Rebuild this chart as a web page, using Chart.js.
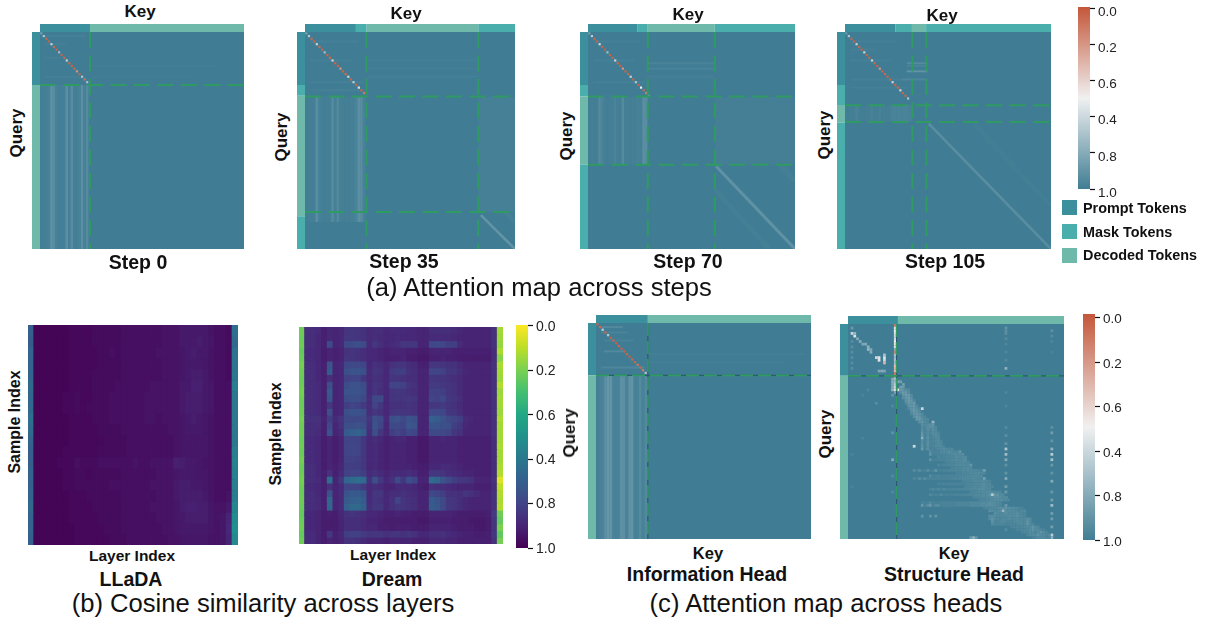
<!DOCTYPE html>
<html>
<head>
<meta charset="utf-8">
<script src="https://cdn.jsdelivr.net/npm/chart.js@4"></script>
<style>
    html, body { margin: 0; padding: 0; background: #fff; width: 1211px; height: 624px; overflow: hidden; }
    body { position: relative; font-family: "Liberation Sans", Arial, sans-serif; color: #111; }
    canvas { position: absolute; filter: blur(0.35px); }
    canvas.bar { filter: none; }
    .label { position: absolute; transform: translate(-50%, -50%); white-space: nowrap; font-weight: bold; }
    .swatch { position: absolute; width: 15px; height: 15px; }
</style>
</head>
<body>
<script>
// ---------- data. Attention panels are in token units (0-80) ----------
const colorbarTickValues = [0, 0.2, 0.4, 0.6, 0.8, 1];
const colorbarTickLabels = ["0.0", "0.2", "0.6", "0.4", "0.8", "1.0"];
const legendLabels = ["Prompt Tokens", "Mask Tokens", "Decoded Tokens"];

const stepZeroKeySpans = [["prompt", 0, 19.6], ["decoded", 19.6, 80]];
const stepZeroQuerySpans = [["prompt", 0, 19.5], ["decoded", 19.5, 80]];
const stepZeroSplitsX = [19.6];
const stepZeroSplitsY = [19.5];
const stepZeroDiagonal = [.85, .68, .05, .04, .62, .06, .04, .72, .04, .06, .62, .05, .04, .06, .2, .05, .68, .1, .7, .95];
const stepZeroStreaks = [.995, .99, .985, .98, .91, .93, .98, .99, .985, .99, .92, .985, .93, .985, .99, .98, .92, .98, .94];
const stepZeroStreakRows = [19.5, 80];
const stepZeroRowStreaks = [[1, 1, 18, .985], [4, 2, 10, .985], [9, 2, 8, .985], [16, 2, 16, .985], [12, 19.6, 70, .995], [16, 19.6, 60, .995]];
const stepZeroBands = [];
const stepZeroWashes = [];

const stepThirtyFiveKeySpans = [["prompt", 0, 19.4], ["mask", 19.4, 23.5], ["decoded", 23.5, 66], ["mask", 66, 80]];
const stepThirtyFiveQuerySpans = [["prompt", 0, 19.5], ["mask", 19.5, 23.5], ["decoded", 23.5, 67.9], ["mask", 67.9, 80]];
const stepThirtyFiveSplitsX = [23.4, 66];
const stepThirtyFiveSplitsY = [23.8, 66.4];
const stepThirtyFiveDiagonal = [.85, .68, .05, .04, .62, .06, .04, .72, .04, .06, .62, .05, .04, .2, .05, .06, .62, .05, .65, .05, .55, .05, .12];
const stepThirtyFiveStreaks = [.995, .99, .99, .985, .93, .98, .99, .995, .99, .99, .94, .985, .95, .985, .99, .99, .99, .985, .985, .97, .92, .93, .98];
const stepThirtyFiveStreakRows = [23.8, 70];
const stepThirtyFiveRowStreaks = [[3, 2, 20, .985], [10, 2, 18, .985], [18, 2, 22, .985], [21, 3, 22, .985], [10, 24, 66, .992], [13, 24, 66, .992], [16, 24, 66, .992]];
const stepThirtyFiveBands = [[67, 67.5, 80, 80, .9, 2.6], [66, 56, 80, 70, .985, 5]];
const stepThirtyFiveWashes = [[66, 24, 80, 66.4, .985]];

const stepSeventyKeySpans = [["prompt", 0, 19.2], ["mask", 19.2, 23.1], ["decoded", 23.1, 49], ["mask", 49, 80]];
const stepSeventyQuerySpans = [["prompt", 0, 19.5], ["mask", 19.5, 23.8], ["decoded", 23.8, 48.9], ["mask", 48.9, 80]];
const stepSeventySplitsX = [23.1, 49];
const stepSeventySplitsY = [23.8, 48.9];
const stepSeventyDiagonal = [.85, .66, .05, .04, .6, .05, .04, .72, .04, .05, .62, .05, .04, .2, .05, .05, .62, .05, .68, .05, .5, .05, .15, .85];
const stepSeventyStreaks = [.995, .99, .99, .99, .94, .97, .99, .995, .99, .99, .97, .99, .99, .94, .99, .99, .99, .985, .985, .98, .985, .92, .93];
const stepSeventyStreakRows = [23.8, 48.9];
const stepSeventyRowStreaks = [[3, 2, 20, .985], [10, 2, 18, .985], [18, 2, 22, .985], [11, 23, 49, .975], [13, 23, 49, .975], [16, 23, 49, .99]];
const stepSeventyBands = [[49.5, 49.5, 80, 80, .91, 3], [56, 30, 80, 55, .99, 6], [49, 58, 70, 80, .992, 5]];
const stepSeventyWashes = [[49, 24, 80, 48.9, .99]];

const stepOneOFiveKeySpans = [["prompt", 0, 19.5], ["mask", 19.5, 26], ["decoded", 26, 31.5], ["mask", 31.5, 80]];
const stepOneOFiveQuerySpans = [["prompt", 0, 19.5], ["mask", 19.5, 26.9], ["decoded", 26.9, 33.4], ["mask", 33.4, 80]];
const stepOneOFiveSplitsX = [26.2, 31.6];
const stepOneOFiveSplitsY = [27, 33.2];
const stepOneOFiveDiagonal = [.88, .68, .05, .04, .62, .05, .04, .62, .05, .04, .62, .05, .04, .2, .05, .05, .05, .04, .62, .05, .05, .6, .05, .05, .68];
const stepOneOFiveStreaks = [.995, .995, .99, .99, .97, .99, .995, .995, .99, .99, .98, .99, .99, .98, .99, .99, .99, .985, .97, .975, .975, .97, .975, .97, .975, .98];
const stepOneOFiveStreakRows = [27, 33.2];
const stepOneOFiveRowStreaks = [[3, 2, 20, .985], [6, 2, 12, .985], [10, 2, 18, .985], [17, 2, 24, .985], [20, 2, 24, .985], [11, 24, 32, .94], [14, 24, 32, .9], [17, 22, 32, .96], [12, 24, 32, .97]];
const stepOneOFiveBands = [[32.5, 33.8, 80, 80, .93, 2.6], [50, 34, 80, 64, .993, 5]];
const stepOneOFiveWashes = [];

const infoKeySpans = [["prompt", 0, 19.3], ["decoded", 19.3, 80]];
const infoQuerySpans = [["prompt", 0, 19.4], ["decoded", 19.4, 80]];
const infoSplitsX = [19.3];
const infoSplitsY = [19.4];
const infoDiagonal = [.04, .06, .65, .05, .68, .03, .05, .03, .05, .03, .03, .05, .03, .05, .05, .1, .05, .12, .7];
const infoStreaks = [.99, .98, .97, .92, .89, .9, .97, .98, .97, .91, .92, .98, .91, .9, .98, .98, .94, .98, .95];
const infoStreakRows = [19.4, 80];
const infoRowStreaks = [[1, 2, 10, .95], [3, 2, 12, .97], [6, 3, 14, .975], [10, 3, 11, .95], [16, 2, 18, .96], [11, 19.3, 78, .992], [14, 19.3, 70, .992]];
const infoBands = [];
const infoWashes = [];

const structureKeySpans = [["prompt", 0, 18.5], ["decoded", 18.5, 80]];
const structureQuerySpans = [["prompt", 0, 19.3], ["decoded", 19.3, 80]];
const structureSplitsX = [18];
const structureSplitsY = [19.3];
const structureCells = [
    [1, 3, .6], [2, 4, .55], [2, 3, .75], [3, 5, .8], [4, 6, .8], [5, 7, .82], [6, 7, .8], [7, 8, .78], [7, 9, .75], [8, 10, .8], [8, 9, .82],
    [10, 12, .6], [11, 12, .55], [11, 13, .45], [13, 13, .6], [13, 14, .3], [13, 12, .55], [13, 11, .7], [11, 17, .82], [12, 17, .8], [13, 17, .82],
    [1, 1, .88], [1, 6, .93], [1, 8, .93], [1, 10, .93], [1, 12, .93], [1, 14, .93], [1, 16, .93],
    [17, 0, .1], [17, 1, .55], [17, 2, .5], [17, 3, .55], [17, 4, .6], [17, 5, .6], [17, 6, .5], [17, 7, .45], [17, 8, .55], [17, 9, .8],
    [17, 10, .12], [17, 11, .7], [17, 12, .75], [17, 13, .7], [17, 14, .75], [17, 15, .35], [17, 16, .3], [17, 17, .35], [17, 18, .1], [17, 19, .2],
    [16, 20, .8], [17, 20, .7], [16, 21, .78], [17, 21, .75], [16, 22, .8], [17, 22, .65], [16, 23, .8], [17, 23, .6], [17, 24, .45], [18, 24, .45],
    [16, 24, .75], [17, 25, .85], [16, 26, .9], [18, 21, .82], [19, 21, .85], [20, 22, .85], [20, 23, .88], [19, 23, .86],
    [16, 30, .95], [16, 40, .9], [16, 50, .8], [16, 56, .94], [16, 62, .95], [10, 29, .93], [7, 24, .96], [5, 26, .97], [5, 42, .97], [1, 48, .97], [1, 60, .97],
    [58, 1, .9], [58, 2, .92], [58, 3, .92], [58, 5, .94], [58, 7, .96], [58, 10, .96], [58, 13, .95], [58, 16, .78], [58, 25, .96], [58, 30, .96],
    [58, 38, .94], [58, 41, .92], [58, 44, .9], [58, 46, .68], [58, 48, .72], [58, 50, .8], [58, 52, .9], [58, 55, .9], [58, 57, .8], [58, 60, .85],
    [58, 62, .88], [58, 64, .75], [58, 67, .88], [58, 70, .6], [58, 73, .88], [58, 76, .94],
    [75, 2, .92], [75, 4, .94], [75, 6, .96], [75, 10, .97], [75, 38, .92], [75, 40, .86], [75, 43, .9], [75, 46, .78], [75, 48, .65], [75, 50, .7],
    [75, 52, .88], [75, 55, .9], [75, 58, .8], [75, 62, .88], [75, 65, .85], [75, 67, .72], [75, 70, .85], [75, 72, .86], [75, 75, .85], [75, 78, .65], [75, 79, .78],
    [24, 45, .6], [27, 31, .6], [31, 36, .75], [46, 79, .78], [45, 79, .88], [47, 79, .9], [32, 71, .9], [30, 71, .9], [27, 71, .9]
];
const structureBand = [
    [24, 19, [.88, .9, .93, .95]], [25, 19, [.92, .88, .88, .93]], [26, 20, [.9, .87, .88, .94]], [27, 20, [.93, .89, .87, .92]],
    [28, 21, [.9, .88, .89, .95]], [29, 21, [.94, .89, .9, .88]], [30, 22, [.9, .9, .88, .94]], [31, 22, [.95, .91, .89, .92, .95]],
    [32, 23, [.92, .88, .9, .94]], [33, 23, [.95, .9, .89, .91, .95]], [34, 24, [.92, .88, .9, .94, .96]], [35, 25, [.9, .88, .92, .95, .95]],
    [36, 26, [.92, .9, .94, .96]], [37, 27, [.92, .95, .94, .92, .9]], [38, 27, [.94, .96, .93, .92, .92, .95]], [39, 27, [.93, .97, .93, .96, .93, .94]],
    [40, 27, [.9, .97, .94, .96, .93, .94, .96]], [41, 27, [.88, .97, .94, .97, .95, .93, .95]], [42, 27, [.78, .97, .92, .97, .96, .95, .94]],
    [43, 27, [.93, .97, .93, .97, .96, .95, .94, .96]], [44, 27, [.92, .98, .92, .97, .97, .96, .94, .95]], [45, 27, [.9, .98, .93, .97, .97, .95, .95, .94, .97]],
    [46, 27, [.88, .98, .92, .97, .97, .97, .95, .95, .93, .95, .96, .95]], [47, 30, [.93, .97, .97, .97, .95, .95, .95, .93, .95, .96, .96, .9]],
    [48, 30, [.9, .98, .98, .97, .97, .96, .96, .95, .95, .94, .95, .94, .93]], [49, 33, [.96, .97, .97, .96, .96, .96, .95, .94, .95, .94, .94]],
    [50, 30, [.9, .98, .98, .97, .97, .97, .96, .96, .95, .95, .94, .95, .94, .93]], [51, 36, [.97, .97, .96, .96, .95, .95, .94, .95, .95]],
    [52, 33, [.96, .98, .97, .97, .96, .96, .96, .95, .94, .95, .94, .95, .89]], [53, 38, [.97, .96, .96, .96, .95, .95, .94, .95]],
    [54, 24, [.93, .98, .93, .98, .98, .93, .98, .98, .9, .98, .98, .97, .97, .96, .96, .96, .96, .96, .95, .95, .94, .95, .95, .95, .96, .96, .85]],
    [55, 40, [.97, .97, .96, .96, .96, .95, .95, .95, .94, .95, .96]], [56, 30, [.93, .98, .98, .96, .98, .98, .97, .97, .97, .97, .97, .96, .96, .96, .95, .95, .95, .94, .95, .95]],
    [57, 24, [.96, .98, .93, .97, .93, .97, .97, .97, .97, .97, .97, .97, .97, .97, .96, .96, .96, .96, .95, .95, .95, .95, .94, .95, .95, .96, .85]],
    [58, 42, [.97, .96, .96, .96, .95, .95, .95, .95, .94, .95, .96]], [59, 33, [.97, .98, .97, .98, .97, .97, .97, .97, .97, .97, .97, .96, .96, .96, .95, .95, .94, .93, .95, .95]],
    [60, 43, [.97, .96, .96, .95, .95, .95, .94, .93, .94, .95, .96]], [61, 30, [.97, .95, .98, .95, .98, .95, .97, .97, .97, .97, .97, .96, .96, .96, .96, .95, .95, .95, .94, .93, .94, .95, .95]],
    [62, 45, [.97, .96, .96, .95, .95, .94, .94, .93, .94, .95, .95, .96]], [63, 30, [.95, .98, .97, .98, .95, .98, .97, .98, .98, .97, .97, .97, .97, .97, .96, .96, .96, .95, .95, .95, .94, .94, .9, .66, .9, .9, .94, .95]],
    [64, 46, [.97, .96, .96, .95, .95, .95, .94, .93, .92, .92, .93, .95, .96]], [65, 48, [.97, .96, .96, .95, .95, .94, .93, .93, .93, .94, .95, .96]],
    [66, 27, [.97, .98, .98, .94, .98, .98, .98, .97, .97, .97, .97, .97, .97, .96, .96, .96, .96, .96, .95, .95, .95, .95, .94, .94, .94, .92, .93, .94, .95, .96]],
    [67, 27, [.88, .98, .93, .88, .98, .93, .93, .97, .97, .97, .97, .97, .97, .96, .96, .96, .96, .96, .95, .95, .95, .95, .94, .94, .92, .92, .93, .94, .95, .96]],
    [68, 50, [.97, .96, .96, .95, .95, .94, .93, .93, .9, .93, .94, .94, .95, .96, .97]], [69, 52, [.92, .94, .95, .95, .93, .75, .93, .94, .94, .94, .95, .96, .95, .95]],
    [70, 54, [.92, .94, .95, .95, .95, .95, .94, .94, .93, .94, .96, .96]], [71, 52, [.93, .93, .94, .95, .95, .95, .95, .94, .94, .94, .92, .94, .95, .96]],
    [72, 52, [.94, .9, .94, .95, .96, .95, .95, .94, .95, .95, .94, .95, .95, .95, .92, .95]], [73, 53, [.9, .96, .96, .95, .94, .96, .96, .96, .95, .94, .94, .95, .95, .9, .95]],
    [74, 53, [.94, .96, .96, .96, .96, .97, .97, .96, .96, .96, .95, .94, .95, .9, .95, .96]], [75, 60, [.97, .96, .96, .96, .96, .95, .94, .94, .9, .94, .96]],
    [76, 62, [.97, .97, .96, .96, .95, .94, .9, .94, .94, .96, .97]], [77, 64, [.97, .96, .96, .94, .94, .96, .94, .9, .94, .96]],
    [78, 66, [.96, .94, .94, .94, .9, .94, .94, .96, .94]], [79, 68, [.97, .96, .94, .94, .94, .96, .96]]
];

const lladaRows = [
    [70, 99, 99, 99, 99, 99, 99, 98, 98, 98, 98, 97, 97, 97, 97, 97, 96, 96, 96, 96, 96, 96, 96, 95, 95, 95, 93, 93, 93, 93, 93, 95, 96, 96, 97, 63],
    [71, 99, 99, 99, 99, 99, 99, 98, 98, 98, 98, 97, 97, 97, 97, 97, 96, 96, 96, 96, 96, 96, 96, 95, 95, 95, 93, 93, 93, 92, 93, 94, 96, 96, 97, 65],
    [68, 99, 99, 99, 99, 99, 99, 98, 98, 98, 98, 98, 97, 97, 96, 97, 96, 96, 96, 96, 96, 96, 95, 95, 95, 95, 94, 93, 92, 93, 93, 95, 96, 96, 97, 62],
    [68, 99, 99, 99, 99, 99, 99, 98, 98, 98, 98, 98, 97, 97, 97, 97, 96, 96, 96, 96, 96, 96, 96, 95, 95, 95, 94, 93, 93, 93, 94, 95, 96, 96, 97, 61],
    [68, 99, 99, 99, 99, 99, 99, 98, 98, 98, 98, 97, 97, 97, 97, 97, 96, 96, 96, 96, 96, 96, 96, 95, 95, 95, 94, 93, 92, 92, 93, 95, 96, 96, 97, 60],
    [66, 99, 99, 99, 99, 99, 99, 98, 98, 98, 98, 97, 97, 97, 97, 96, 96, 96, 96, 96, 96, 95, 95, 95, 95, 95, 93, 93, 91, 91, 93, 94, 96, 96, 96, 58],
    [67, 99, 99, 99, 99, 99, 98, 98, 97, 98, 98, 97, 97, 97, 96, 96, 96, 96, 96, 96, 95, 95, 95, 95, 95, 95, 93, 92, 92, 92, 93, 94, 96, 96, 96, 60],
    [66, 99, 99, 99, 99, 99, 98, 98, 97, 98, 97, 97, 97, 97, 96, 96, 96, 96, 96, 96, 95, 95, 95, 95, 95, 95, 93, 92, 92, 92, 93, 94, 96, 96, 96, 60],
    [64, 99, 99, 99, 99, 99, 99, 98, 98, 98, 98, 97, 97, 97, 96, 96, 96, 96, 96, 96, 95, 95, 96, 95, 95, 95, 94, 93, 92, 93, 94, 95, 96, 96, 96, 60],
    [65, 99, 99, 99, 99, 99, 99, 98, 98, 98, 98, 98, 97, 97, 97, 97, 96, 96, 96, 96, 96, 96, 96, 96, 95, 95, 94, 93, 93, 93, 94, 95, 96, 96, 96, 60],
    [68, 99, 99, 99, 99, 99, 99, 98, 98, 98, 98, 98, 98, 97, 97, 97, 97, 96, 96, 96, 96, 96, 96, 96, 96, 95, 94, 94, 94, 94, 94, 95, 96, 96, 96, 60],
    [70, 99, 99, 99, 99, 99, 98, 98, 98, 98, 98, 98, 97, 97, 97, 97, 97, 96, 96, 96, 96, 96, 96, 96, 96, 95, 94, 94, 94, 94, 94, 95, 96, 96, 96, 58],
    [70, 99, 99, 99, 99, 98, 98, 98, 96, 97, 97, 97, 96, 96, 96, 96, 96, 96, 95, 96, 96, 95, 95, 95, 95, 91, 92, 93, 93, 94, 95, 95, 96, 96, 96, 56],
    [68, 99, 99, 99, 99, 99, 98, 98, 97, 97, 98, 97, 97, 97, 97, 97, 96, 96, 96, 96, 96, 96, 95, 95, 95, 94, 93, 93, 93, 94, 94, 95, 96, 96, 96, 57],
    [69, 99, 99, 99, 99, 99, 98, 98, 97, 97, 97, 97, 97, 97, 96, 96, 96, 96, 96, 96, 96, 95, 95, 95, 95, 93, 92, 92, 93, 93, 94, 95, 96, 96, 96, 58],
    [68, 99, 99, 99, 99, 99, 99, 98, 98, 98, 97, 97, 97, 97, 97, 97, 96, 96, 96, 96, 96, 96, 95, 95, 95, 93, 92, 92, 92, 92, 93, 95, 96, 96, 95, 58],
    [66, 99, 99, 99, 99, 99, 99, 98, 98, 98, 98, 97, 97, 97, 97, 97, 96, 96, 96, 96, 96, 95, 95, 95, 95, 94, 92, 91, 91, 92, 92, 94, 95, 95, 93, 54],
    [68, 99, 99, 99, 99, 99, 99, 98, 98, 98, 98, 98, 97, 97, 97, 97, 96, 96, 96, 96, 96, 96, 95, 95, 95, 94, 93, 92, 92, 92, 92, 94, 95, 94, 90, 52],
    [68, 99, 99, 99, 99, 99, 99, 99, 98, 98, 98, 98, 98, 97, 97, 97, 96, 96, 96, 96, 96, 96, 96, 95, 95, 94, 93, 93, 93, 93, 93, 94, 95, 94, 89, 50],
    [70, 99, 99, 99, 99, 99, 99, 99, 98, 98, 98, 98, 98, 98, 97, 97, 97, 96, 96, 96, 96, 96, 96, 96, 95, 95, 94, 94, 94, 94, 94, 95, 95, 94, 90, 53]
];
const dreamRows = [
    [22, 87, 87, 88, 91, 89, 90, 89, 85, 84, 85, 86, 88, 87, 87, 89, 88, 88, 88, 89, 89, 90, 90, 87, 87, 87, 87, 88, 89, 90, 90, 90, 90, 90, 86, 14],
    [23, 87, 87, 89, 91, 89, 90, 89, 84, 84, 85, 86, 88, 87, 88, 89, 89, 88, 89, 89, 89, 90, 90, 88, 88, 88, 88, 89, 90, 90, 90, 90, 90, 90, 86, 15],
    [22, 87, 87, 89, 91, 77, 90, 89, 78, 77, 76, 78, 88, 84, 87, 89, 88, 87, 84, 84, 84, 90, 90, 79, 78, 79, 82, 82, 88, 90, 90, 90, 90, 90, 86, 16],
    [24, 88, 88, 89, 92, 90, 91, 90, 86, 85, 86, 87, 89, 89, 90, 91, 90, 90, 90, 91, 91, 92, 92, 90, 90, 90, 90, 91, 91, 91, 91, 91, 91, 91, 87, 13],
    [23, 88, 88, 89, 92, 90, 91, 90, 85, 85, 86, 87, 89, 89, 90, 91, 91, 91, 90, 92, 92, 93, 93, 91, 91, 90, 91, 91, 92, 92, 92, 92, 92, 92, 87, 18],
    [21, 87, 87, 89, 91, 75, 90, 89, 79, 78, 78, 80, 89, 86, 87, 89, 86, 85, 85, 87, 88, 91, 91, 84, 84, 85, 86, 86, 88, 90, 90, 90, 90, 90, 86, 13],
    [22, 87, 87, 89, 91, 72, 90, 89, 76, 74, 74, 76, 88, 85, 86, 89, 83, 82, 82, 86, 87, 90, 90, 80, 80, 81, 85, 85, 87, 89, 90, 90, 90, 90, 86, 14],
    [23, 87, 87, 89, 91, 87, 90, 89, 81, 80, 80, 84, 88, 86, 87, 89, 85, 85, 86, 87, 87, 90, 90, 84, 85, 85, 86, 87, 88, 90, 90, 90, 90, 90, 86, 15],
    [22, 87, 87, 88, 91, 76, 90, 89, 77, 75, 75, 77, 88, 85, 86, 89, 80, 80, 81, 85, 86, 90, 90, 83, 83, 84, 85, 86, 88, 90, 90, 90, 90, 90, 86, 12],
    [21, 87, 87, 88, 91, 72, 90, 89, 75, 74, 74, 76, 88, 85, 87, 89, 85, 84, 85, 86, 87, 90, 90, 81, 81, 82, 85, 86, 88, 90, 90, 90, 90, 90, 86, 15],
    [22, 87, 87, 88, 91, 74, 90, 89, 77, 76, 76, 78, 87, 78, 78, 89, 85, 85, 85, 84, 85, 90, 90, 80, 81, 79, 84, 85, 87, 90, 90, 90, 90, 90, 86, 14],
    [23, 87, 87, 88, 91, 84, 90, 89, 82, 80, 81, 83, 87, 80, 84, 89, 86, 86, 86, 85, 86, 90, 90, 84, 84, 83, 85, 86, 88, 90, 90, 90, 90, 90, 86, 14],
    [22, 87, 87, 88, 91, 76, 90, 89, 76, 74, 74, 76, 87, 84, 86, 89, 85, 84, 85, 85, 86, 90, 90, 78, 78, 79, 84, 85, 87, 90, 90, 90, 90, 90, 86, 15],
    [21, 86, 86, 86, 90, 82, 88, 85, 78, 78, 78, 78, 84, 76, 78, 88, 76, 75, 78, 74, 76, 90, 90, 70, 71, 74, 78, 80, 82, 88, 89, 90, 90, 90, 86, 13],
    [22, 87, 87, 87, 91, 78, 90, 86, 76, 76, 75, 76, 86, 74, 80, 89, 78, 78, 80, 73, 75, 90, 90, 74, 74, 76, 76, 82, 84, 89, 90, 90, 90, 90, 86, 14],
    [22, 87, 87, 88, 91, 74, 90, 88, 72, 70, 68, 72, 87, 76, 84, 89, 82, 80, 82, 78, 80, 90, 90, 78, 78, 78, 80, 84, 86, 90, 90, 90, 90, 90, 86, 14],
    [23, 88, 88, 89, 92, 90, 92, 90, 80, 80, 80, 84, 89, 87, 89, 91, 90, 89, 89, 91, 91, 93, 93, 90, 90, 89, 90, 90, 91, 91, 91, 91, 91, 91, 87, 14],
    [22, 88, 88, 89, 92, 90, 92, 90, 80, 79, 80, 84, 89, 88, 90, 91, 90, 90, 90, 91, 91, 93, 93, 90, 90, 90, 90, 90, 91, 91, 91, 91, 91, 91, 87, 13],
    [23, 88, 88, 89, 92, 90, 92, 90, 80, 79, 80, 84, 89, 88, 90, 91, 90, 90, 90, 91, 91, 93, 93, 90, 90, 90, 90, 90, 91, 91, 91, 91, 91, 91, 87, 14],
    [21, 88, 88, 89, 92, 90, 92, 90, 81, 81, 82, 84, 89, 88, 90, 91, 90, 90, 90, 91, 91, 93, 93, 90, 90, 90, 90, 90, 91, 91, 91, 91, 91, 91, 87, 14],
    [23, 87, 87, 89, 92, 90, 91, 89, 82, 82, 82, 84, 89, 88, 90, 91, 90, 90, 90, 90, 91, 92, 92, 89, 89, 88, 88, 89, 90, 91, 91, 91, 91, 91, 87, 13],
    [22, 87, 87, 89, 91, 86, 91, 88, 81, 80, 80, 82, 88, 86, 88, 90, 88, 88, 88, 87, 88, 91, 91, 84, 84, 85, 87, 88, 89, 90, 90, 91, 91, 91, 87, 12],
    [21, 87, 87, 88, 91, 63, 90, 84, 68, 65, 64, 66, 86, 76, 84, 89, 86, 78, 84, 76, 80, 90, 90, 65, 68, 74, 78, 82, 84, 84, 86, 90, 90, 90, 86, 5],
    [22, 88, 88, 89, 91, 86, 90, 88, 80, 80, 80, 83, 88, 87, 88, 90, 90, 88, 88, 88, 89, 91, 92, 86, 87, 87, 88, 89, 90, 90, 90, 91, 91, 91, 87, 10],
    [23, 87, 87, 89, 91, 74, 90, 88, 74, 72, 72, 74, 88, 84, 84, 89, 87, 87, 86, 87, 88, 90, 90, 78, 80, 82, 86, 86, 87, 85, 86, 88, 90, 90, 86, 12],
    [22, 87, 87, 88, 91, 67, 90, 88, 72, 70, 69, 72, 88, 85, 86, 89, 86, 80, 85, 86, 87, 90, 90, 72, 74, 78, 84, 85, 87, 89, 90, 90, 90, 90, 86, 13],
    [23, 87, 87, 88, 91, 68, 90, 88, 70, 66, 66, 70, 87, 84, 84, 89, 86, 84, 85, 86, 87, 90, 90, 71, 73, 78, 84, 85, 87, 89, 90, 90, 90, 90, 86, 12],
    [24, 89, 89, 90, 92, 91, 92, 89, 86, 85, 86, 87, 89, 89, 90, 91, 91, 90, 91, 91, 92, 92, 92, 90, 90, 90, 90, 91, 92, 92, 92, 92, 92, 91, 83, 22],
    [23, 89, 89, 90, 92, 92, 92, 90, 87, 87, 87, 88, 90, 90, 91, 92, 92, 92, 92, 92, 92, 93, 93, 91, 91, 91, 91, 92, 92, 92, 93, 93, 93, 92, 85, 24],
    [22, 89, 89, 90, 92, 92, 92, 90, 87, 87, 87, 88, 89, 89, 91, 91, 92, 91, 91, 91, 92, 92, 92, 90, 90, 90, 90, 91, 92, 92, 92, 93, 93, 92, 85, 20],
    [24, 88, 88, 90, 92, 84, 91, 89, 82, 81, 81, 83, 85, 84, 84, 86, 85, 85, 86, 85, 86, 89, 89, 87, 87, 86, 88, 89, 90, 91, 91, 92, 92, 91, 84, 25],
    [22, 88, 88, 90, 92, 90, 91, 90, 86, 86, 87, 88, 90, 90, 90, 91, 90, 90, 90, 90, 91, 91, 91, 89, 89, 89, 90, 90, 91, 91, 91, 91, 91, 91, 86, 21]
];

// ---------- layout and colours ----------
const stripColors = { prompt: "#3c8f9c", mask: "#4aaead", decoded: "#6fb9ab" };
const splitColor = "#2f9a62";
const tokenCount = 80;
const attentionStops = [[0, [196, 87, 58]], [0.5, [240, 240, 240]], [1, [64, 125, 148]]];
const viridisHex = ["#440154", "#482475", "#414487", "#355f8d", "#2a788e", "#21918c", "#22a884", "#44bf70", "#7ad151", "#bddf26", "#fde725"];

function hexToRgb(hex) {
    return [1, 3, 5].map(i => parseInt(hex.substr(i, 2), 16));
}

function mixStops(stops, t) {
    for (let i = 1; i < stops.length; i++) {
        if (t <= stops[i][0]) {
            const a = stops[i - 1];
            const b = stops[i];
            const f = (t - a[0]) / (b[0] - a[0]);
            const c = a[1].map((ch, k) => Math.round(ch + (b[1][k] - ch) * f));
            return "rgb(" + c[0] + ", " + c[1] + ", " + c[2] + ")";
        }
    }
    return "rgb(" + stops[stops.length - 1][1].join(", ") + ")";
}

const viridisStops = viridisHex.map((hex, i) => [(viridisHex.length - 1 - i) / (viridisHex.length - 1), hexToRgb(hex)]).reverse();
const attentionColor = v => mixStops(attentionStops, v);
const viridisColor = v => mixStops(viridisStops, v);

function addCanvas(left, top, width, height, cls) {
    const canvas = document.createElement("canvas");
    canvas.width = width;
    canvas.height = height;
    canvas.style.left = left + "px";
    canvas.style.top = top + "px";
    canvas.style.width = width + "px";
    canvas.style.height = height + "px";
    if (cls) canvas.className = cls;
    document.body.appendChild(canvas);
    return canvas;
}

function addLabel(text, x, y, size, weight, rotated) {
    const el = document.createElement("div");
    el.className = "label";
    el.textContent = text;
    el.style.left = x + "px";
    el.style.top = y + "px";
    el.style.fontSize = size + "px";
    el.style.fontWeight = weight || "bold";
    if (rotated) el.style.transform = "translate(-50%, -50%) rotate(-90deg)";
    document.body.appendChild(el);
}

const baseOptions = {
    responsive: false,
    animation: false,
    events: [],
    layout: { autoPadding: false },
    plugins: { legend: { display: false }, tooltip: { enabled: false } }
};

function segment(points, color, width, dash) {
    return {
        data: points.map(p => ({ x: p[0], y: p[1] })),
        showLine: true, pointRadius: 0, borderColor: color, borderWidth: width,
        borderDash: dash || [], borderCapStyle: "butt", tension: 0
    };
}

function cellDataset(cells, radius) {
    return {
        data: cells.map(c => ({ x: c[0] + 0.5, y: c[1] + 0.5, v: c[2] })),
        pointStyle: "rect", pointRadius: radius, pointBorderWidth: 0,
        pointBackgroundColor: ctx => attentionColor(ctx.raw.v)
    };
}

function tokenPanel(box, d, thinSplits) {
    const plotW = box.right - box.left;
    const plotH = box.bottom - box.top;
    const unitX = plotW / tokenCount;
    const unitY = plotH / tokenCount;
    const stripX = box.strip / unitX;
    const stripY = box.strip / unitY;
    const canvas = addCanvas(box.left - box.strip, box.top - box.strip, plotW + box.strip, plotH + box.strip);
    const layers = [];

    layers.push(segment([[0, tokenCount / 2], [tokenCount, tokenCount / 2]], attentionColor(1), plotH));
    (d.washes || []).forEach(w => {
        layers.push(segment([[w[0], (w[1] + w[3]) / 2], [w[2], (w[1] + w[3]) / 2]], attentionColor(w[4]), (w[3] - w[1]) * unitY));
    });
    d.streaks.forEach((v, col) => {
        layers.push(segment([[col + 0.5, d.streakRows[0]], [col + 0.5, d.streakRows[1]]], attentionColor(v), unitX));
    });
    d.rowStreaks.forEach(r => {
        layers.push(segment([[r[1], r[0] + 0.5], [r[2], r[0] + 0.5]], attentionColor(r[3]), unitY * 0.7));
    });
    d.bands.forEach(b => {
        layers.push(segment([[b[0], b[1]], [b[2], b[3]]], attentionColor(b[4]), b[5]));
    });
    if (d.cells) layers.push(cellDataset(d.cells, unitX * 0.72));
    if (d.diagonal) {
        layers.push(cellDataset(d.diagonal.map((v, i) => [i, i, v]), unitX * 0.6));
    }

    if (thinSplits) {
        d.splitsX.forEach(x => layers.push(segment([[x, 0], [x, tokenCount]], "#2b5a72", 1.2)));
        d.splitsY.forEach(y => layers.push(segment([[0, y], [tokenCount, y]], "#2b5a72", 1.2)));
    }
    const splitWidth = thinSplits ? 1.6 : 2;
    const splitDash = thinSplits ? [13, 5] : [16, 7.5];
    d.splitsX.forEach(x => layers.push(segment([[x, 0], [x, tokenCount]], splitColor, splitWidth, splitDash)));
    d.splitsY.forEach(y => layers.push(segment([[0, y], [tokenCount, y]], splitColor, splitWidth, splitDash)));

    d.keySpans.forEach(s => {
        layers.push(segment([[s[1], -stripY / 2], [s[2], -stripY / 2]], stripColors[s[0]], box.strip));
    });
    d.querySpans.forEach(s => {
        layers.push(segment([[-stripX / 2, s[1]], [-stripX / 2, s[2]]], stripColors[s[0]], box.strip));
    });

    return new Chart(canvas, {
        type: "scatter",
        data: { datasets: layers.reverse() },
        options: Object.assign({}, baseOptions, {
            scales: {
                x: { type: "linear", display: false, min: -stripX, max: tokenCount },
                y: { type: "linear", display: false, reverse: true, min: -stripY, max: tokenCount }
            }
        })
    });
}

function matrixPanel(box, rows) {
    const canvas = addCanvas(box.left, box.top, box.right - box.left, box.bottom - box.top);
    return new Chart(canvas, {
        type: "bar",
        data: {
            labels: rows[0].map((v, i) => i),
            datasets: rows.map((row, r) => ({
                data: row.map(() => [r, r + 1]),
                backgroundColor: row.map(v => viridisColor(v / 100)),
                barPercentage: 1, categoryPercentage: 1, inflateAmount: 0.5, grouped: false
            }))
        },
        options: Object.assign({}, baseOptions, {
            scales: {
                x: { display: false },
                y: { display: false, min: 0, max: rows.length, reverse: true }
            }
        })
    });
}

function colorbar(box, colorAt, fontSize, labelOffset, scaleMin) {
    const margin = 12;
    const barW = box.right - box.left;
    const canvas = addCanvas(box.left, box.top - margin, barW + 40, box.bottom - box.top + 2 * margin, "bar");
    return new Chart(canvas, {
        type: "bar",
        data: {
            labels: [""],
            datasets: [{
                data: [[scaleMin, 1]],
                barPercentage: 1, categoryPercentage: 1,
                backgroundColor: ctx => {
                    const area = ctx.chart.chartArea;
                    if (!area) return colorAt(0.5);
                    const gradient = ctx.chart.ctx.createLinearGradient(0, area.top, 0, area.bottom);
                    for (let i = 0; i <= 20; i++) gradient.addColorStop(i / 20, colorAt(i / 20));
                    return gradient;
                }
            }]
        },
        options: Object.assign({}, baseOptions, {
            layout: { autoPadding: false, padding: { top: margin, bottom: margin, left: 0, right: 0 } },
            scales: {
                x: { display: false },
                y: {
                    position: "right", min: scaleMin, max: 1, reverse: true,
                    afterFit: axis => { axis.width = 40; },
                    afterBuildTicks: axis => { axis.ticks = colorbarTickValues.map(v => ({ value: v })); },
                    border: { display: false },
                    grid: { drawOnChartArea: false, tickLength: 5, tickColor: "#111", tickWidth: 1.2 },
                    ticks: {
                        autoSkip: false, padding: 3, color: "#222", labelOffset: labelOffset,
                        font: { family: "'Liberation Sans', Arial, sans-serif", size: fontSize },
                        callback: value => colorbarTickLabels[colorbarTickValues.indexOf(value)]
                    }
                }
            }
        })
    });
}

// ---------- panels ----------
tokenPanel({ left: 40, top: 32, right: 244, bottom: 249, strip: 8 }, {
    keySpans: stepZeroKeySpans, querySpans: stepZeroQuerySpans, splitsX: stepZeroSplitsX, splitsY: stepZeroSplitsY,
    diagonal: stepZeroDiagonal, streaks: stepZeroStreaks, streakRows: stepZeroStreakRows,
    rowStreaks: stepZeroRowStreaks, bands: stepZeroBands, washes: stepZeroWashes
});
tokenPanel({ left: 305, top: 32, right: 515, bottom: 249, strip: 8 }, {
    keySpans: stepThirtyFiveKeySpans, querySpans: stepThirtyFiveQuerySpans, splitsX: stepThirtyFiveSplitsX, splitsY: stepThirtyFiveSplitsY,
    diagonal: stepThirtyFiveDiagonal, streaks: stepThirtyFiveStreaks, streakRows: stepThirtyFiveStreakRows,
    rowStreaks: stepThirtyFiveRowStreaks, bands: stepThirtyFiveBands, washes: stepThirtyFiveWashes
});
tokenPanel({ left: 588, top: 32, right: 795, bottom: 249, strip: 8 }, {
    keySpans: stepSeventyKeySpans, querySpans: stepSeventyQuerySpans, splitsX: stepSeventySplitsX, splitsY: stepSeventySplitsY,
    diagonal: stepSeventyDiagonal, streaks: stepSeventyStreaks, streakRows: stepSeventyStreakRows,
    rowStreaks: stepSeventyRowStreaks, bands: stepSeventyBands, washes: stepSeventyWashes
});
tokenPanel({ left: 845, top: 32, right: 1051, bottom: 249, strip: 8 }, {
    keySpans: stepOneOFiveKeySpans, querySpans: stepOneOFiveQuerySpans, splitsX: stepOneOFiveSplitsX, splitsY: stepOneOFiveSplitsY,
    diagonal: stepOneOFiveDiagonal, streaks: stepOneOFiveStreaks, streakRows: stepOneOFiveStreakRows,
    rowStreaks: stepOneOFiveRowStreaks, bands: stepOneOFiveBands, washes: stepOneOFiveWashes
});
tokenPanel({ left: 596, top: 323, right: 811, bottom: 539, strip: 8 }, {
    keySpans: infoKeySpans, querySpans: infoQuerySpans, splitsX: infoSplitsX, splitsY: infoSplitsY,
    diagonal: infoDiagonal, streaks: infoStreaks, streakRows: infoStreakRows,
    rowStreaks: infoRowStreaks, bands: infoBands
}, true);
tokenPanel({ left: 848, top: 324, right: 1064, bottom: 539, strip: 8 }, {
    keySpans: structureKeySpans, querySpans: structureQuerySpans, splitsX: structureSplitsX, splitsY: structureSplitsY,
    cells: structureCells.concat(structureBand.flatMap(b => b[2].map((v, i) => [b[1] + i, b[0], v]))),
    streaks: [], streakRows: [0, 0], rowStreaks: [], bands: []
}, true);

matrixPanel({ left: 28, top: 325, right: 238, bottom: 545 }, lladaRows);
matrixPanel({ left: 299, top: 327, right: 503, bottom: 544 }, dreamRows);

colorbar({ left: 1078, top: 7, right: 1090, bottom: 189 }, attentionColor, 13.5, 4, -0.006);
colorbar({ left: 516, top: 325, right: 528, bottom: 548 }, viridisColor, 14, 1, -0.004);
colorbar({ left: 1083, top: 314, right: 1095, bottom: 540 }, attentionColor, 13.5, 2, -0.016);

// ---------- text ----------
addLabel("Key", 140, 12, 17);
addLabel("Key", 406, 14, 17);
addLabel("Key", 688, 15, 17);
addLabel("Key", 942, 16, 17);
addLabel("Query", 17, 133, 17, null, true);
addLabel("Query", 282, 137, 17, null, true);
addLabel("Query", 567, 136, 17, null, true);
addLabel("Query", 825, 135, 17, null, true);
addLabel("Step 0", 138, 262, 19.5);
addLabel("Step 35", 404, 261, 19.5);
addLabel("Step 70", 688, 261, 19.5);
addLabel("Step 105", 945, 261, 19.5);
addLabel("(a) Attention map across steps", 539, 287, 25.6, "normal");

addLabel("Sample Index", 15, 422, 16, null, true);
addLabel("Sample Index", 276, 434, 16, null, true);
addLabel("Layer Index", 132, 556, 15.5);
addLabel("Layer Index", 393, 555, 15.5);
addLabel("LLaDA", 131, 579, 19.5);
addLabel("Dream", 392, 579, 19.5);
addLabel("(b) Cosine similarity across layers", 263, 603, 25.6, "normal");

addLabel("Query", 570, 433, 17, null, true);
addLabel("Query", 826, 434, 17, null, true);
addLabel("Key", 708, 553, 16.5);
addLabel("Key", 954, 553, 16.5);
addLabel("Information Head", 707, 574, 19.5);
addLabel("Structure Head", 954, 574, 19.5);
addLabel("(c) Attention map across heads", 826, 603, 25.6, "normal");

["prompt", "mask", "decoded"].forEach((kind, i) => {
    const swatch = document.createElement("div");
    swatch.className = "swatch";
    swatch.style.left = "1062px";
    swatch.style.top = (200 + i * 24) + "px";
    swatch.style.background = stripColors[kind];
    document.body.appendChild(swatch);
    const el = document.createElement("div");
    el.className = "label";
    el.textContent = legendLabels[i];
    el.style.left = "1083px";
    el.style.top = (208 + i * 23.5) + "px";
    el.style.fontSize = "14.4px";
    el.style.transform = "translate(0, -50%)";
    document.body.appendChild(el);
});
</script>
</body>
</html>
